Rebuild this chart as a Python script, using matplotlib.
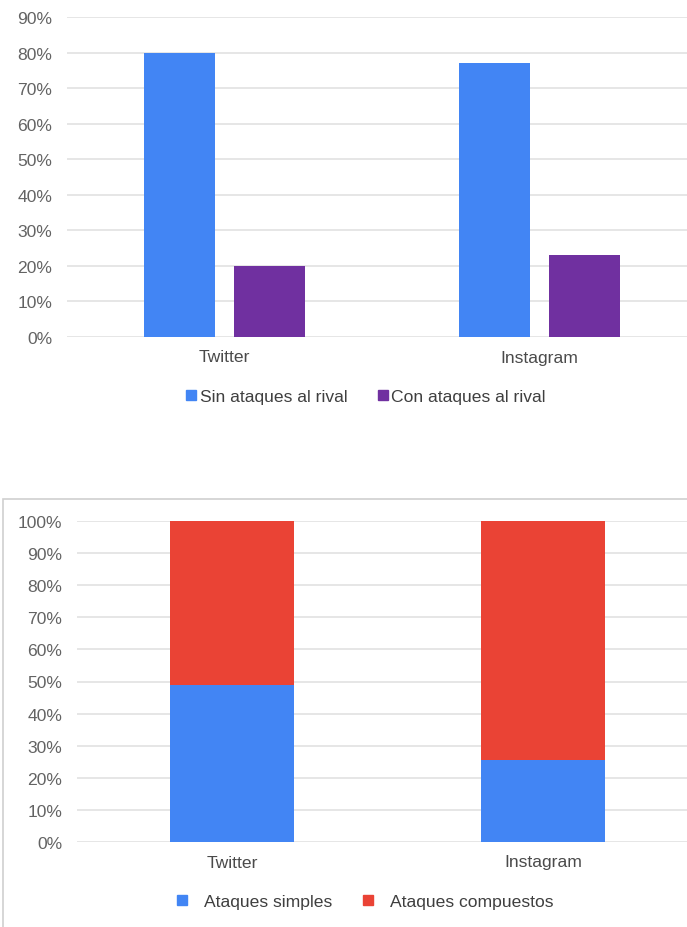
import matplotlib
matplotlib.use("Agg")
import matplotlib.pyplot as plt
from matplotlib.lines import Line2D
from matplotlib.patches import Rectangle
from matplotlib.ticker import PercentFormatter

plt.rcParams['font.family'] = ['Liberation Sans', 'DejaVu Sans']

# datos
redes = ['Twitter', 'Instagram']
sin_ataques = [0.80, 0.77]
con_ataques = [0.20, 0.23]
ataques_simples = [0.49, 0.254]
ataques_compuestos = [0.51, 0.746]

AZUL = '#4285F4'
MORADO = '#7030A0'
ROJO = '#EA4335'
GRIS_TXT = '#636363'
GRIS_LEY = '#3f3f3f'
GRIS_GRID = '#e2e2e2'
FS = 12.6

W, H = 687, 928
fig = plt.figure(figsize=(W / 100, H / 100), dpi=100)


def estilo(ax):
    for s in ax.spines.values():
        s.set_visible(False)
    ax.yaxis.set_major_formatter(PercentFormatter(1.0, decimals=0))
    ax.grid(axis='y', color=GRIS_GRID, linewidth=1.2)
    ax.set_axisbelow(True)
    ax.tick_params(length=0, labelsize=FS, labelcolor=GRIS_TXT)
    ax.tick_params(axis='y', pad=10.5)
    ax.tick_params(axis='x', pad=9, labelcolor='#4a4a4a')


# grafico 1: barras agrupadas
ax1 = fig.add_axes([67 / W, 1 - 338 / H, 620 / W, 320 / H])
x = [0, 1]
ancho = 0.225
ax1.bar([i - 0.143 for i in x], sin_ataques, ancho, color=AZUL)
ax1.bar([i + 0.143 for i in x], con_ataques, ancho, color=MORADO)
ax1.set_ylim(0, 0.9)
ax1.set_yticks([i / 10 for i in range(10)])
ax1.set_xlim(-0.5, -0.5 + 620 / 315)
ax1.set_xticks(x)
ax1.set_xticklabels(redes)
estilo(ax1)

h1 = [Line2D([], [], marker='s', linestyle='none', color=AZUL, markersize=7),
      Line2D([], [], marker='s', linestyle='none', color=MORADO, markersize=7)]
fig.legend(h1, ['Sin ataques al rival', 'Con ataques al rival'],
           loc='center', bbox_to_anchor=(366 / W, 1 - 397 / H), ncol=2,
           frameon=False, fontsize=FS, labelcolor=GRIS_LEY,
           handlelength=0.6, handletextpad=0.2, columnspacing=1.7)

# marco del segundo grafico (sin borde inferior visible)
fig.patches.append(Rectangle((3 / W, -0.05), 1, 1.05 - 500 / H, transform=fig.transFigure,
                             fill=False, edgecolor='#d0d0d0', linewidth=1.2))

# grafico 2: barras apiladas
ax2 = fig.add_axes([77 / W, 1 - 843 / H, 610 / W, 321 / H])
ax2.bar(x, ataques_simples, 0.4, color=AZUL)
ax2.bar(x, ataques_compuestos, 0.4, bottom=ataques_simples, color=ROJO)
ax2.set_ylim(0, 1.0)
ax2.set_yticks([i / 10 for i in range(11)])
ax2.set_xlim(-0.498, 1.463)
ax2.set_xticks(x)
ax2.set_xticklabels(redes)
estilo(ax2)

h2 = [Line2D([], [], marker='s', linestyle='none', color=AZUL, markersize=6.5),
      Line2D([], [], marker='s', linestyle='none', color=ROJO, markersize=6.5)]
fig.legend(h2, ['Ataques simples', 'Ataques compuestos'],
           loc='center', bbox_to_anchor=(365 / W, 1 - 902 / H), ncol=2,
           frameon=False, fontsize=FS, labelcolor=GRIS_LEY,
           handlelength=0.6, handletextpad=1.0, columnspacing=1.7)

fig.savefig('out.png', dpi=100)
